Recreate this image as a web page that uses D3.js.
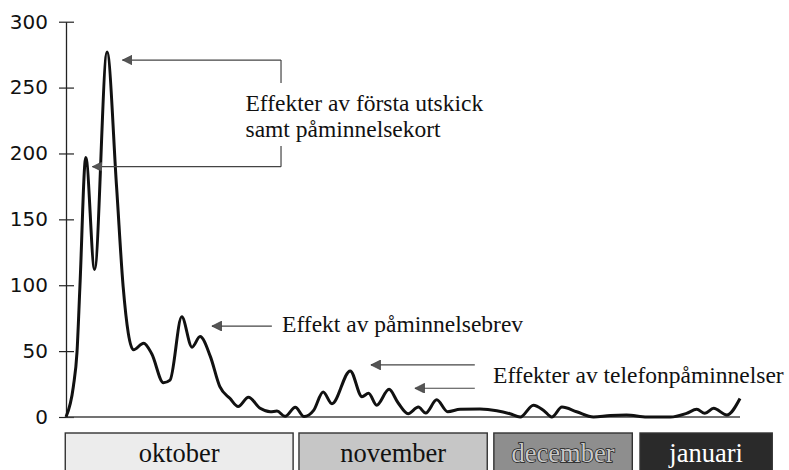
<!DOCTYPE html>
<html>
<head>
<meta charset="utf-8">
<script src="https://cdn.jsdelivr.net/npm/d3@7"></script>
<style>
  body { margin: 0; background: #fff; }
  svg { display: block; }
</style>
</head>
<body>
<div id="chart"></div>
<script>
// days since 1 Oct and responses per day
const days = [0, 1.0, 1.5, 1.9, 2.7, 3.9, 5.6, 6.9, 7.8, 9.2, 10.6, 11.7, 13.3, 14.2, 15.8, 17.2, 18.3, 19.7, 21.0, 22.4, 23.5, 24.9, 26.5, 27.9, 28.8, 29.9, 31.3, 32.5, 33.8, 35.1, 36.3, 38.8, 40.4, 41.3, 42.4, 44.1, 45.3, 46.7, 48.1, 49.1, 50.6, 52.1, 53.8, 56.5, 58.8, 60.6, 62.0, 63.8, 65.2, 66.3, 67.7, 69.7, 72.0, 74.3, 76.5, 79.3, 82.5, 84.7, 86.1, 87.2, 88.4, 90.2, 92.0];
const counts = [0, 23, 49, 99, 197, 112, 277, 175, 99, 51, 56, 48, 26, 28, 76, 53, 61, 46, 23, 14, 8, 15, 6.6, 4, 4.5, 0.5, 7.4, 0.3, 5, 19, 10, 35, 15.4, 18, 9, 21, 11, 2.5, 7.5, 3, 13, 4, 5.8, 6, 4.8, 2.5, 0, 9, 5, 0, 7.5, 4, 0, 1.2, 1.5, 0, 0, 2.8, 5.8, 2.8, 6.6, 1.5, 14];
const yTicks = [0, 50, 100, 150, 200, 250, 300];

const months = ["oktober", "november", "december", "januari"];
const monthStart = [-0.1, 31.8, 58.4, 78.35];
const monthEnd = [31.0, 57.5, 77.3, 96.4];
const monthFill = ["#ececec", "#c6c6c6", "#8e8e8e", "#2a2a2a"];
const monthText = ["#111", "#111", "#c8c8c8", "#fff"];

// annotations, in data units: [day, count]
const noteLines1 = ["Effekter av första utskick", "samt påminnelsekort"];
const note1Pos = [[24.5, 232], [24.5, 212.5]];
const note1Arrows = [[7.7, 270.9], [3.6, 190]];
const note1Bracket = [29.35, 253.5, 205.7];
const note2 = "Effekt av påminnelsebrev";
const note2Pos = [29.5, 64.5];
const note2Arrow = [19.9, 69, 28.1];
const note3 = "Effekter av telefonpåminnelser";
const note3Pos = [58.3, 25.8];
const note3Arrows = [[41.6, 39.5], [47.6, 21.8]];
const note3ArrowEnd = 55.8;

const width = 789, height = 470;

const svg = d3.select("#chart").append("svg")
  .attr("width", width)
  .attr("height", height);

const x = d3.scaleLinear().domain([0, 92]).range([66, 740]);
const y = d3.scaleLinear().domain([0, 300]).range([417, 21.7]);

svg.append("defs").append("marker")
  .attr("id", "head")
  .attr("viewBox", "0 0 10 10")
  .attr("refX", 10).attr("refY", 5)
  .attr("markerWidth", 10).attr("markerHeight", 10)
  .attr("markerUnits", "userSpaceOnUse")
  .attr("orient", "auto")
  .append("path")
  .attr("d", "M0,0 L10,5 L0,10 Z")
  .attr("fill", "#555")
  .attr("stroke", "#333")
  .attr("stroke-width", 0.6);

// y axis, ticks cross the line
const axisG = svg.append("g")
  .attr("transform", "translate(" + x(0) + ",0)")
  .call(d3.axisLeft(y).tickValues(yTicks).tickSize(7).tickPadding(11).tickSizeOuter(0));
axisG.select(".domain").attr("stroke", "#222").attr("stroke-width", 1.3);
axisG.selectAll(".tick line").attr("x1", -7).attr("x2", 8).attr("stroke", "#222").attr("stroke-width", 1.2);
axisG.selectAll(".tick text")
  .attr("font-family", "DejaVu Sans, sans-serif")
  .attr("font-size", 20)
  .attr("fill", "#111");

// baseline
svg.append("line")
  .attr("x1", x(0)).attr("x2", x(92))
  .attr("y1", y(0)).attr("y2", y(0))
  .attr("stroke", "#444").attr("stroke-width", 1.5);

// response curve
const line = d3.line()
  .x((d, i) => x(days[i]))
  .y(d => y(d))
  .curve(d3.curveMonotoneX);

svg.append("path")
  .datum(counts)
  .attr("d", line)
  .attr("fill", "none")
  .attr("stroke", "#111")
  .attr("stroke-width", 3)
  .attr("stroke-linejoin", "round");

// month boxes
const mg = svg.selectAll(".month")
  .data(months)
  .enter().append("g")
  .attr("class", "month");

mg.append("rect")
  .attr("x", (d, i) => x(monthStart[i]))
  .attr("width", (d, i) => x(monthEnd[i]) - x(monthStart[i]))
  .attr("y", 433)
  .attr("height", 45)
  .attr("fill", (d, i) => monthFill[i])
  .attr("stroke", "#333")
  .attr("stroke-width", 1.4);

mg.append("text")
  .attr("x", (d, i) => (x(monthStart[i]) + x(monthEnd[i])) / 2)
  .attr("y", 462)
  .attr("text-anchor", "middle")
  .attr("font-family", "Liberation Serif, serif")
  .attr("font-size", 26.5)
  .attr("fill", (d, i) => monthText[i])
  .attr("stroke", (d, i) => i === 2 ? "#1a1a1a" : "none")
  .attr("stroke-width", 1.4)
  .attr("paint-order", "stroke")
  .text(d => d);

const serif = "Liberation Serif, serif";
const arrowStroke = "#444";

// note 1: bracket with two arrows
svg.selectAll(".arrow1")
  .data(note1Arrows)
  .enter().append("line")
  .attr("x1", x(note1Bracket[0]))
  .attr("y1", d => y(d[1]))
  .attr("x2", d => x(d[0]))
  .attr("y2", d => y(d[1]))
  .attr("stroke", arrowStroke)
  .attr("stroke-width", 1.2)
  .attr("marker-end", "url(#head)");

svg.append("line")
  .attr("x1", x(note1Bracket[0])).attr("x2", x(note1Bracket[0]))
  .attr("y1", y(note1Arrows[0][1])).attr("y2", y(note1Bracket[1]))
  .attr("stroke", arrowStroke).attr("stroke-width", 1.2);
svg.append("line")
  .attr("x1", x(note1Bracket[0])).attr("x2", x(note1Bracket[0]))
  .attr("y1", y(note1Bracket[2])).attr("y2", y(note1Arrows[1][1]))
  .attr("stroke", arrowStroke).attr("stroke-width", 1.2);

svg.selectAll(".note1")
  .data(noteLines1)
  .enter().append("text")
  .attr("x", (d, i) => x(note1Pos[i][0]))
  .attr("y", (d, i) => y(note1Pos[i][1]))
  .attr("font-family", serif)
  .attr("font-size", 23.5)
  .attr("fill", "#111")
  .text(d => d);

// note 2
svg.append("line")
  .attr("x1", x(note2Arrow[2])).attr("x2", x(note2Arrow[0]))
  .attr("y1", y(note2Arrow[1])).attr("y2", y(note2Arrow[1]))
  .attr("stroke", arrowStroke).attr("stroke-width", 1.2)
  .attr("marker-end", "url(#head)");
svg.append("text")
  .attr("x", x(note2Pos[0])).attr("y", y(note2Pos[1]))
  .attr("font-family", serif)
  .attr("font-size", 23.5)
  .attr("fill", "#111")
  .text(note2);

// note 3
svg.selectAll(".arrow3")
  .data(note3Arrows)
  .enter().append("line")
  .attr("x1", x(note3ArrowEnd))
  .attr("y1", d => y(d[1]))
  .attr("x2", d => x(d[0]))
  .attr("y2", d => y(d[1]))
  .attr("stroke", arrowStroke)
  .attr("stroke-width", 1.2)
  .attr("marker-end", "url(#head)");
svg.append("text")
  .attr("x", x(note3Pos[0])).attr("y", y(note3Pos[1]))
  .attr("font-family", serif)
  .attr("font-size", 23.5)
  .attr("fill", "#111")
  .text(note3);
</script>
</body>
</html>
